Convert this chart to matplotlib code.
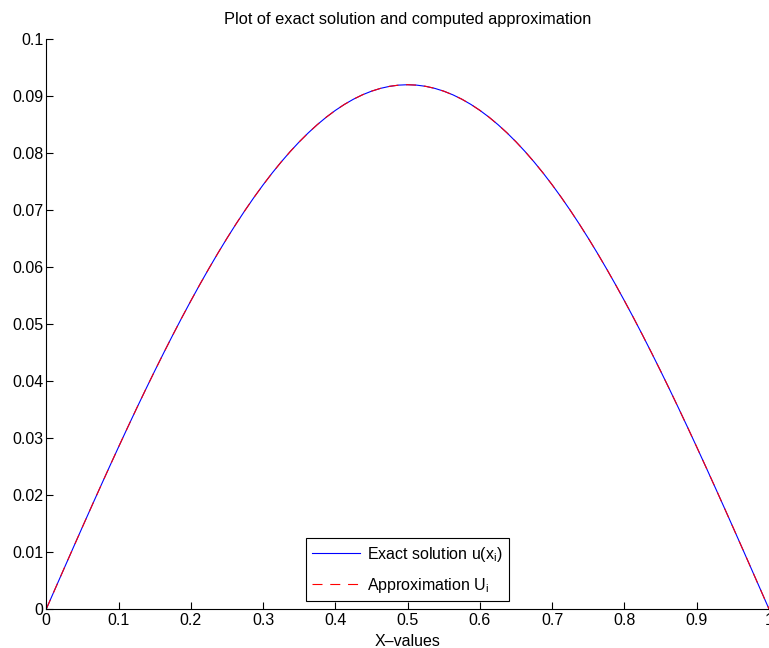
import matplotlib
matplotlib.use('Agg')
import matplotlib.pyplot as plt
import numpy as np
from matplotlib.ticker import FormatStrFormatter

plt.rcParams.update({
    "font.family": "Liberation Sans",
    "font.size": 11.5,
    "mathtext.default": "regular",
})

# x grid and values (curve is symmetric about x = 0.5)
x_vals = [0.0, 0.0125, 0.025, 0.0375, 0.05, 0.0625, 0.075, 0.0875, 0.1, 0.1125,
          0.125, 0.1375, 0.15, 0.1625, 0.175, 0.1875, 0.2, 0.2125, 0.225, 0.2375,
          0.25, 0.2625, 0.275, 0.2875, 0.3, 0.3125, 0.325, 0.3375, 0.35, 0.3625,
          0.375, 0.3875, 0.4, 0.4125, 0.425, 0.4375, 0.45, 0.4625, 0.475, 0.4875,
          0.5, 0.5125, 0.525, 0.5375, 0.55, 0.5625, 0.575, 0.5875, 0.6, 0.6125,
          0.625, 0.6375, 0.65, 0.6625, 0.675, 0.6875, 0.7, 0.7125, 0.725, 0.7375,
          0.75, 0.7625, 0.775, 0.7875, 0.8, 0.8125, 0.825, 0.8375, 0.85, 0.8625,
          0.875, 0.8875, 0.9, 0.9125, 0.925, 0.9375, 0.95, 0.9625, 0.975, 0.9875, 1.0]
half = [0.0, 0.003611, 0.007217, 0.010811, 0.014389, 0.017944, 0.021472, 0.024967,
        0.028423, 0.031836, 0.035199, 0.038508, 0.041758, 0.044943, 0.048059,
        0.051101, 0.054064, 0.056944, 0.059736, 0.062436, 0.065040, 0.067543,
        0.069942, 0.072233, 0.074413, 0.076479, 0.078426, 0.080252, 0.081955,
        0.083531, 0.084978, 0.086295, 0.087478, 0.088527, 0.089439, 0.090213,
        0.090848, 0.091342, 0.091696, 0.091909, 0.091980]
u_exact = half + half[-2::-1]
U_approx = list(u_exact)

xticks = [0, 0.1, 0.2, 0.3, 0.4, 0.5, 0.6, 0.7, 0.8, 0.9, 1]
yticks = [0, 0.01, 0.02, 0.03, 0.04, 0.05, 0.06, 0.07, 0.08, 0.09, 0.1]

fig = plt.figure(figsize=(7.69, 6.48), dpi=100)
ax = fig.add_axes([0.0602, 0.0602, 0.9398, 0.8796])

ax.plot(x_vals, u_exact, '-', color='#0000ff', lw=0.8, label='Exact solution u(x$_i$)')
ax.plot(x_vals, U_approx, '--', color='#ff0000', lw=0.8, dashes=(9, 7),
        label='Approximation U$_i$')

ax.set_xlim(0, 1)
ax.set_ylim(0, 0.1)
ax.set_xticks(xticks)
ax.set_yticks(yticks)
ax.xaxis.set_major_formatter(FormatStrFormatter('%g'))
ax.yaxis.set_major_formatter(FormatStrFormatter('%g'))
ax.tick_params(direction='in', length=5, width=0.8, pad=3)
ax.tick_params(axis='y', pad=2)
ax.spines['top'].set_visible(False)
ax.spines['right'].set_visible(False)
ax.spines['left'].set_linewidth(0.8)
ax.spines['bottom'].set_linewidth(0.8)

ax.set_title('Plot of exact solution and computed approximation', fontsize=11.8, pad=11)
ax.set_xlabel('X\u2013values', labelpad=4)

leg = ax.legend(loc='lower center', bbox_to_anchor=(0.5, 0.014), borderaxespad=0,
                fancybox=False, framealpha=1, edgecolor='black',
                handlelength=3.0, handletextpad=0.45, labelspacing=0.75,
                borderpad=0.4)
leg.get_frame().set_linewidth(0.8)

fig.savefig('out.png', dpi=100)
